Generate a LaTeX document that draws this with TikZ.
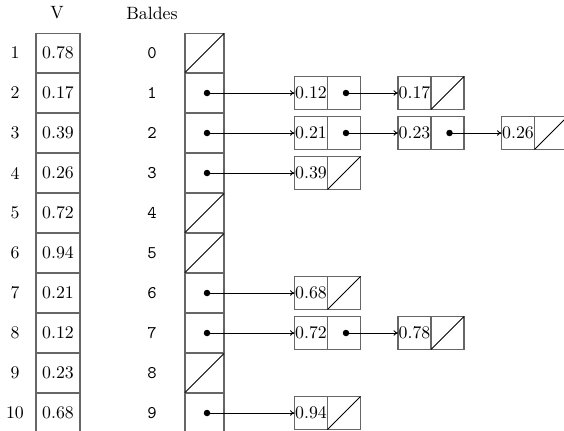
\documentclass[tikz,border=0pt]{standalone}
\usetikzlibrary{arrows.meta}
\begin{document}
\begin{tikzpicture}[x=0.5618pt,y=-0.5618pt,
 vcell/.style={draw=black!60, line width=0.7pt, minimum width=44*0.5618pt, minimum height=39*0.5618pt, inner sep=0pt, outer sep=0pt},
 bcell/.style={vcell, minimum width=39*0.5618pt},
 half/.style={draw=black!60, line width=0.7pt, minimum width=33*0.5618pt, minimum height=33*0.5618pt, inner sep=0pt, outer sep=0pt},
 ptr/.style={-{To[length=2.5pt,width=3pt]}, line width=0.5pt},
 dot/.style={circle, fill, inner sep=0pt, minimum size=6.5*0.5618pt},
 nil/.style={line width=0.5pt}]
\useasboundingbox (0,0) rectangle (564,431);
% headers
\node (hV) at (57,13) {V};
\node (hB) at (152,13) {Baldes};
% V column
\foreach \i/\v in {1/0.78,2/0.17,3/0.39,4/0.26,5/0.72,6/0.94,7/0.21,8/0.12,9/0.23,10/0.68}{
  \node[vcell] (v\i) at (58,{53+40*(\i-1)}) {\v};
  \node (vi\i) at (15,{53+40*(\i-1)}) {\i};
}
% buckets
\foreach \j in {0,...,9}{
  \node[bcell] (b\j) at (204.5,{53+40*\j}) {};
  \node (bi\j) at (152,{53+40*\j}) {\ttfamily\j};
}
\foreach \j in {0,4,5,8}{
  \draw[nil] (b\j.south west) -- (b\j.north east);
}
\foreach \j in {1,2,3,6,7,9}{
  \node[dot] (bd\j) at (207,{53+40*\j}) {};
}
% list nodes: key halves and pointer halves
% row 1
\node[half] (k11) at (311,93) {0.12};
\node[half] (p11) at (344,93) {};
\node[dot] (d11) at (346,93) {};
\node[half] (k12) at (414.5,93) {0.17};
\node[half] (p12) at (447.5,93) {};
\draw[nil] (p12.south west) -- (p12.north east);
\draw[ptr] (bd1.center) -- (k11.west);
\draw[ptr] (d11.center) -- (k12.west);
% row 2
\node[half] (k21) at (311,133) {0.21};
\node[half] (p21) at (344,133) {};
\node[dot] (d21) at (346,133) {};
\node[half] (k22) at (414.5,133) {0.23};
\node[half] (p22) at (447.5,133) {};
\node[dot] (d22) at (449.5,133) {};
\node[half] (k23) at (518,133) {0.26};
\node[half] (p23) at (551,133) {};
\draw[nil] (p23.south west) -- (p23.north east);
\draw[ptr] (bd2.center) -- (k21.west);
\draw[ptr] (d21.center) -- (k22.west);
\draw[ptr] (d22.center) -- (k23.west);
% row 3
\node[half] (k31) at (311,173) {0.39};
\node[half] (p31) at (344,173) {};
\draw[nil] (p31.south west) -- (p31.north east);
\draw[ptr] (bd3.center) -- (k31.west);
% row 6
\node[half] (k61) at (311,293) {0.68};
\node[half] (p61) at (344,293) {};
\draw[nil] (p61.south west) -- (p61.north east);
\draw[ptr] (bd6.center) -- (k61.west);
% row 7
\node[half] (k71) at (311,333) {0.72};
\node[half] (p71) at (344,333) {};
\node[dot] (d71) at (346,333) {};
\node[half] (k72) at (414.5,333) {0.78};
\node[half] (p72) at (447.5,333) {};
\draw[nil] (p72.south west) -- (p72.north east);
\draw[ptr] (bd7.center) -- (k71.west);
\draw[ptr] (d71.center) -- (k72.west);
% row 9
\node[half] (k91) at (311,413) {0.94};
\node[half] (p91) at (344,413) {};
\draw[nil] (p91.south west) -- (p91.north east);
\draw[ptr] (bd9.center) -- (k91.west);
\end{tikzpicture}
\end{document}
